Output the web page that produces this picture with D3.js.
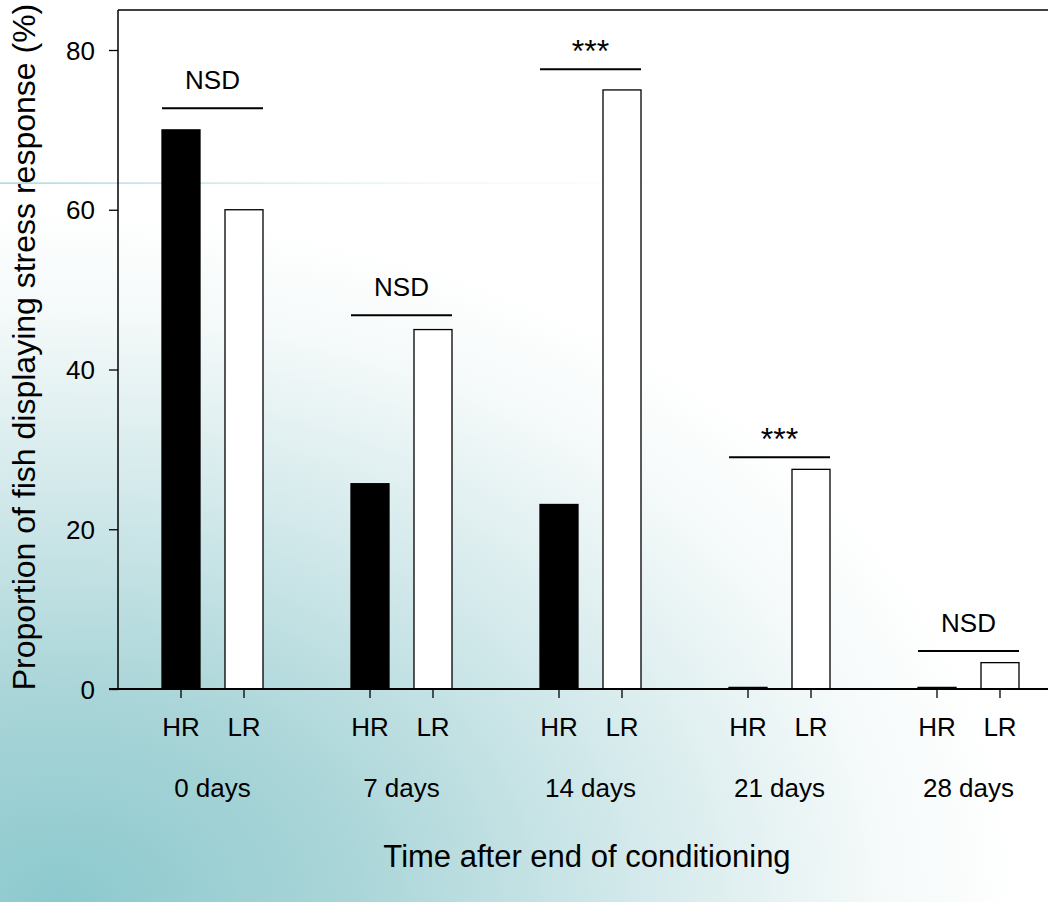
<!DOCTYPE html>
<html><head><meta charset="utf-8">
<script src="https://cdn.jsdelivr.net/npm/d3@7"></script>
<style>html,body{margin:0;padding:0;background:#fff;}svg{display:block;font-family:"Liberation Sans",Arial,sans-serif;}</style>
</head><body>
<svg id="chart" width="1048" height="902"></svg>
<script>
const days = ["0 days","7 days","14 days","21 days","28 days"];
const groups = ["HR","LR"];
const hrValues = [70, 25.7, 23.1, 0.2, 0.2];
const lrValues = [60, 45, 75, 27.5, 3.3];
const sigLabels = ["NSD","NSD","***","***","NSD"];
const sigLevels = [72.7, 46.8, 77.6, 29, 4.75];
const yTicks = [0,20,40,60,80];

const svg = d3.select("#chart");
const W = 1048, H = 902;
const defs = svg.append("defs");
const rg = defs.append("radialGradient").attr("id","bg")
  .attr("gradientUnits","userSpaceOnUse").attr("cx",60).attr("cy",902).attr("r",960)
  .attr("gradientTransform","translate(60,902) scale(1,0.72) translate(-60,-902)");
rg.append("stop").attr("offset","0").attr("stop-color","#8cc9ce");
rg.append("stop").attr("offset","0.3").attr("stop-color","#a9d5d8");
rg.append("stop").attr("offset","0.6").attr("stop-color","#d3e9eb");
rg.append("stop").attr("offset","0.85").attr("stop-color","#f4f9f9");
rg.append("stop").attr("offset","1").attr("stop-color","#ffffff");
const lg = defs.append("linearGradient").attr("id","edge").attr("x1","0").attr("x2","1");
lg.append("stop").attr("offset","0").attr("stop-color","#8fcfd2");
lg.append("stop").attr("offset","0.5").attr("stop-color","#e6f3f4");
lg.append("stop").attr("offset","1").attr("stop-color","#ffffff").attr("stop-opacity",0);

svg.append("rect").attr("x",0).attr("y",0).attr("width",W).attr("height",H).attr("fill","#fff");
svg.append("rect").attr("x",0).attr("y",183).attr("width",W).attr("height",H-183).attr("fill","url(#bg)");
svg.append("rect").attr("x",0).attr("y",182.5).attr("width",800).attr("height",1.2).attr("fill","url(#edge)");

const y = d3.scaleLinear().domain([0,80]).range([689,50]);
const x0 = d3.scaleBand().domain(days).range([118,1063]).padding(0);
const x1 = d3.scalePoint().domain(groups).range([63,126]);
const bw = 38;

const data = days.map((d,i)=>({day:d, vals:[{g:"HR",v:hrValues[i]},{g:"LR",v:lrValues[i]}]}));

// top frame line
svg.append("line").attr("x1",118).attr("x2",W).attr("y1",y(85)).attr("y2",y(85)).attr("stroke","#000").attr("stroke-width",1.5);

// bars
const gg = svg.selectAll("g.grp").data(data).join("g").attr("class","grp")
  .attr("transform",d=>`translate(${x0(d.day)},0)`);
gg.selectAll("rect").data(d=>d.vals).join("rect")
  .attr("x",d=>x1(d.g)-bw/2).attr("width",bw)
  .attr("y",d=>y(d.v)).attr("height",d=>y(0)-y(d.v))
  .attr("fill",d=>d.g==="HR"?"#000":"#fff").attr("stroke","#000").attr("stroke-width",1.3);

// y axis
const ya = svg.append("g").attr("transform","translate(118,0)")
  .call(d3.axisLeft(y).tickValues(yTicks).tickSize(9).tickPadding(14));
ya.select(".domain").attr("d",`M0,${y(85)}V${y(0)}`).attr("stroke-width",1.5);
ya.selectAll(".tick line").attr("stroke-width",1.3);
ya.selectAll("text").attr("font-size",26).attr("fill","#000").attr("dy","0.35em").attr("font-family","Liberation Sans, Arial, sans-serif");

// x axis
svg.append("line").attr("x1",109).attr("x2",W).attr("y1",y(0)).attr("y2",y(0)).attr("stroke","#000").attr("stroke-width",2);
data.forEach(d=>{
  groups.forEach(g=>{
    const cx = x0(d.day)+x1(g);
    svg.append("line").attr("x1",cx).attr("x2",cx).attr("y1",y(0)).attr("y2",y(0)+9).attr("stroke","#000").attr("stroke-width",1.3);
    svg.append("text").attr("x",cx).attr("y",736).attr("text-anchor","middle").attr("font-size",26).text(g);
  });
  svg.append("text").attr("x",x0(d.day)+x0.bandwidth()/2).attr("y",797).attr("text-anchor","middle").attr("font-size",26).text(d.day);
});

// significance
days.forEach((d,i)=>{
  const a = x0(d)+x1("HR")-bw/2, b = x0(d)+x1("LR")+bw/2;
  const ly = y(sigLevels[i]);
  svg.append("line").attr("x1",a).attr("x2",b).attr("y1",ly).attr("y2",ly).attr("stroke","#000").attr("stroke-width",2);
  const star = sigLabels[i]==="***";
  svg.append("text").attr("x",(a+b)/2).attr("y",ly-(star?7:19)).attr("text-anchor","middle")
    .attr("font-size",star?32:26).text(sigLabels[i]);
});

// axis titles
svg.append("text").attr("x",587).attr("y",867).attr("text-anchor","middle").attr("font-size",31).text("Time after end of conditioning");
svg.append("text").attr("transform","translate(35,347) rotate(-90)").attr("text-anchor","middle").attr("font-size",32)
  .text("Proportion of fish displaying stress response (%)");
</script>
</body></html>
